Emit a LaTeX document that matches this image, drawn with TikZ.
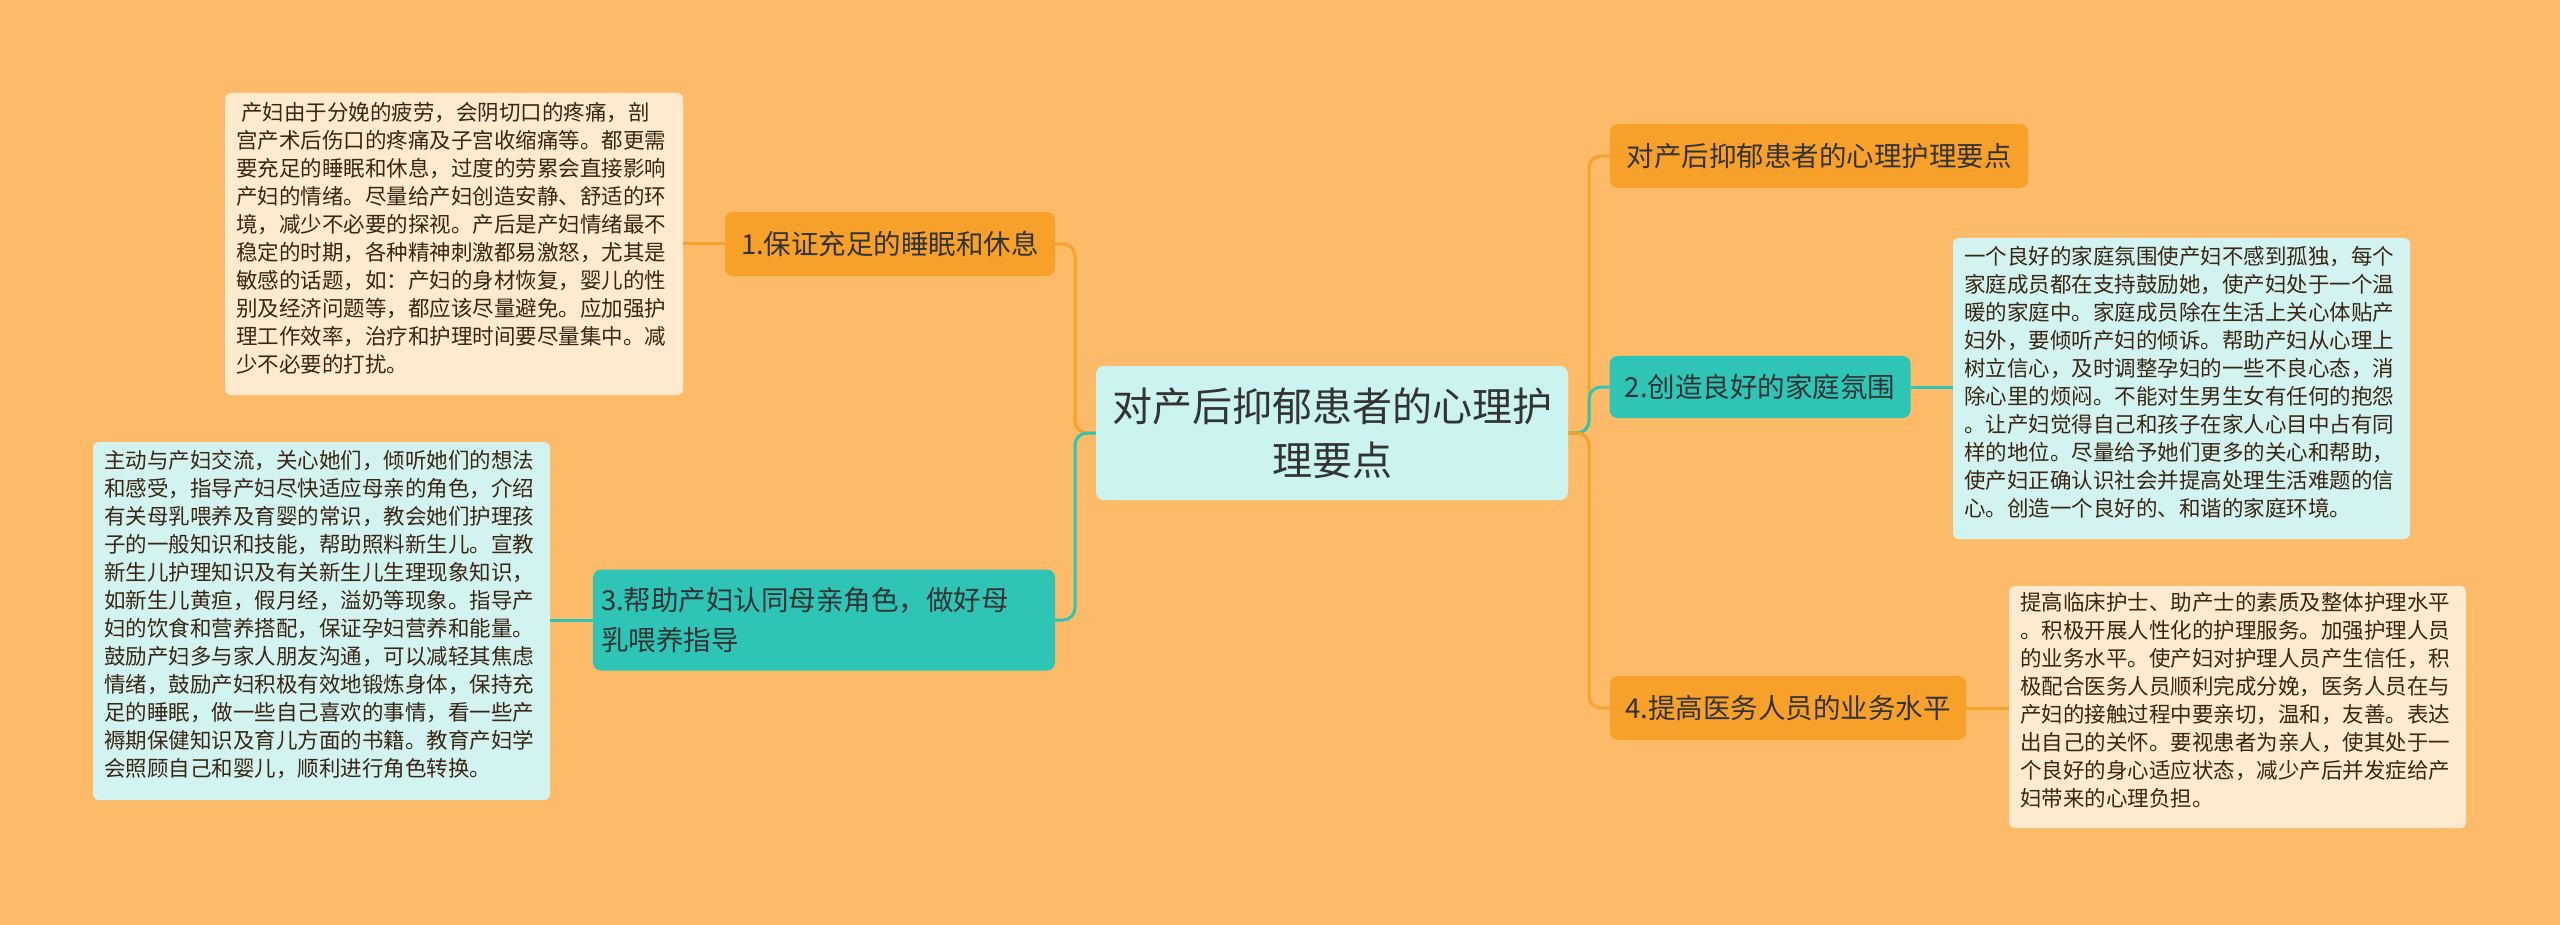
\documentclass[tikz,border=0pt]{standalone}
\usepackage{fontspec}
\setmainfont{Noto Sans CJK SC}
\begin{document}
\begin{tikzpicture}[x=1pt,y=-1pt,
  lf/.style={inner sep=0pt,draw=none,align=left,font=\fontsize{21.5}{28}\selectfont,text=black!70!brown,anchor=north west},
  br/.style={rounded corners=8pt,draw=none,font=\fontsize{27.5}{40}\selectfont,text=black!80,inner sep=0pt},
  con/.style={line width=3pt,rounded corners=12pt}]
\definecolor{bg}{HTML}{FDBB6A}
\definecolor{org}{HTML}{F8A12A}
\definecolor{tea}{HTML}{2EC4B6}
\definecolor{lcy}{HTML}{D3F3F0}
\definecolor{cre}{HTML}{FEEBCF}
\definecolor{cen}{HTML}{CBF3EF}
\fill[bg] (0,0) rectangle (2560,925);
\useasboundingbox (0,0) rectangle (2560,925);
% center
\node[rounded corners=8pt,fill=cen,minimum width=472,minimum height=134,align=center,font=\fontsize{40}{54}\selectfont,text=black!80] (c) at (1332,433) {对产后抑郁患者的心理护\\理要点};
% branches
\node[br,fill=org,minimum width=330,minimum height=64] (b1) at (890,244) {1.保证充足的睡眠和休息};
\node[br,fill=tea,minimum width=462,minimum height=101,align=left,text width=446] (b3) at (824,620) {3.帮助产妇认同母亲角色，做好母\\乳喂养指导};
\node[br,fill=org,minimum width=418,minimum height=64] (b0) at (1819,156) {对产后抑郁患者的心理护理要点};
\node[br,fill=tea,minimum width=301,minimum height=62] (b2) at (1760,387) {2.创造良好的家庭氛围};
\node[br,fill=org,minimum width=356,minimum height=64] (b4) at (1788,708) {4.提高医务人员的业务水平};
% leaves
\fill[cre,rounded corners=6pt] (225,93) rectangle (683,395);
\node[lf] (l1) at (236,102) {\ 产妇由于分娩的疲劳，会阴切口的疼痛，剖\\宫产术后伤口的疼痛及子宫收缩痛等。都更需\\要充足的睡眠和休息，过度的劳累会直接影响\\产妇的情绪。尽量给产妇创造安静、舒适的环\\境，减少不必要的探视。产后是产妇情绪最不\\稳定的时期，各种精神刺激都易激怒，尤其是\\敏感的话题，如：产妇的身材恢复，婴儿的性\\别及经济问题等，都应该尽量避免。应加强护\\理工作效率，治疗和护理时间要尽量集中。减\\少不必要的打扰。};
\coordinate (l1e) at (683,244);
\fill[lcy,rounded corners=6pt] (93,442) rectangle (550,800);
\node[lf] (l3) at (104,450) {主动与产妇交流，关心她们，倾听她们的想法\\和感受，指导产妇尽快适应母亲的角色，介绍\\有关母乳喂养及育婴的常识，教会她们护理孩\\子的一般知识和技能，帮助照料新生儿。宣教\\新生儿护理知识及有关新生儿生理现象知识，\\如新生儿黄疸，假月经，溢奶等现象。指导产\\妇的饮食和营养搭配，保证孕妇营养和能量。\\鼓励产妇多与家人朋友沟通，可以减轻其焦虑\\情绪，鼓励产妇积极有效地锻炼身体，保持充\\足的睡眠，做一些自己喜欢的事情，看一些产\\褥期保健知识及育儿方面的书籍。教育产妇学\\会照顾自己和婴儿，顺利进行角色转换。};
\coordinate (l3e) at (550,620);
\fill[lcy,rounded corners=6pt] (1953,238) rectangle (2410,539);
\node[lf] (l2) at (1964,246) {一个良好的家庭氛围使产妇不感到孤独，每个\\家庭成员都在支持鼓励她，使产妇处于一个温\\暖的家庭中。家庭成员除在生活上关心体贴产\\妇外，要倾听产妇的倾诉。帮助产妇从心理上\\树立信心，及时调整孕妇的一些不良心态，消\\除心里的烦闷。不能对生男生女有任何的抱怨\\。让产妇觉得自己和孩子在家人心目中占有同\\样的地位。尽量给予她们更多的关心和帮助，\\使产妇正确认识社会并提高处理生活难题的信\\心。创造一个良好的、和谐的家庭环境。};
\coordinate (l2w) at (1953,387);
\fill[cre,rounded corners=6pt] (2009,586) rectangle (2466,828);
\node[lf] (l4) at (2020,592) {提高临床护士、助产士的素质及整体护理水平\\。积极开展人性化的护理服务。加强护理人员\\的业务水平。使产妇对护理人员产生信任，积\\极配合医务人员顺利完成分娩，医务人员在与\\产妇的接触过程中要亲切，温和，友善。表达\\出自己的关怀。要视患者为亲人，使其处于一\\个良好的身心适应状态，减少产后并发症给产\\妇带来的心理负担。};
\coordinate (l4w) at (2009,708);
% connectors
\draw[con,org] (c.west) -- (1075,433) -- (1075,244) -- (b1.east);
\draw[con,tea] (c.west) -- (1075,433) -- (1075,620) -- (b3.east);
\draw[con,org] (c.east) -- (1589,433) -- (1589,156) -- (b0.west);
\draw[con,tea] (c.east) -- (1589,433) -- (1589,387) -- (b2.west);
\draw[con,org] (c.east) -- (1589,433) -- (1589,708) -- (b4.west);
\draw[con,org] (b1.west) -- (l1e);
\draw[con,tea] (b3.west) -- (l3e);
\draw[con,tea] (b2.east) -- (l2w);
\draw[con,org] (b4.east) -- (l4w);
\end{tikzpicture}
\end{document}
